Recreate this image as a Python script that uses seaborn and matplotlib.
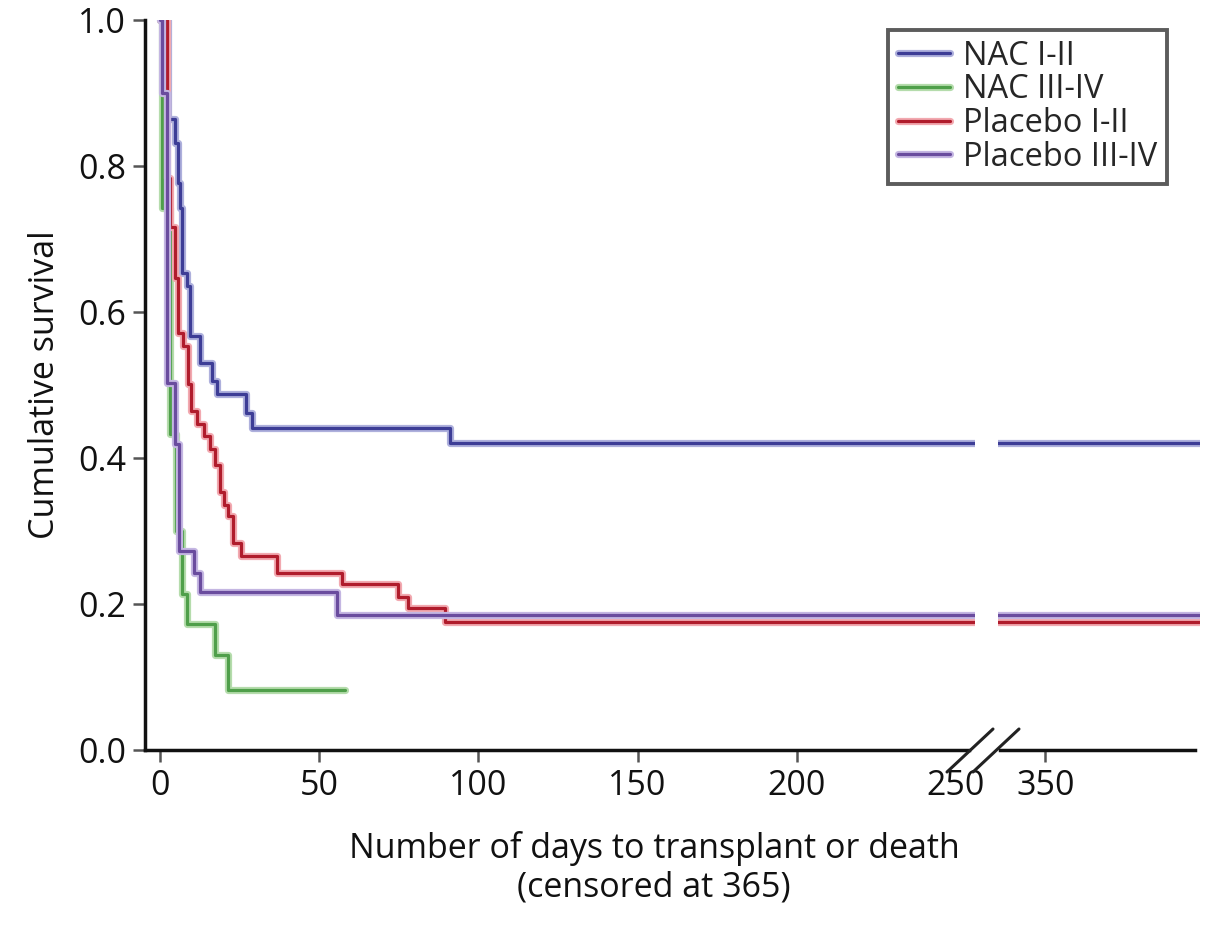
import pandas as pd
import seaborn as sns
import matplotlib.pyplot as plt
import matplotlib.patheffects as pe
from matplotlib.lines import Line2D

sns.set_style('ticks')
plt.rcParams['font.family'] = ['Open Sans', 'DejaVu Sans']

# Kaplan-Meier steps: day of drop, survival after drop
nac12_t = [0, 2.5, 4.7, 5.7, 6.3, 6.9, 8.5, 9.4, 12.6, 16.4, 17.9, 27.0, 28.9, 91.2, 398.5]
nac12_s = [1.0, 0.865, 0.832, 0.777, 0.743, 0.654, 0.636, 0.567, 0.530, 0.505, 0.487, 0.462, 0.441, 0.420, 0.420]

nac34_t = [0, 0.6, 3.0, 5.0, 6.9, 8.5, 17.3, 21.4, 58.2]
nac34_s = [1.0, 0.742, 0.433, 0.300, 0.214, 0.172, 0.130, 0.082, 0.082]

plc12_t = [0, 2.2, 3.1, 4.7, 5.8, 7.3, 8.9, 9.6, 11.6, 13.8, 15.7, 17.3, 18.9, 20.0, 21.5,
           22.9, 25.5, 36.8, 57.2, 74.8, 78.0, 89.6, 398.5]
plc12_s = [1.0, 0.784, 0.716, 0.647, 0.571, 0.553, 0.501, 0.464, 0.446, 0.430, 0.412, 0.391, 0.354,
           0.336, 0.320, 0.283, 0.266, 0.243, 0.228, 0.210, 0.194, 0.176, 0.176]

plc34_t = [0, 0.6, 2.2, 4.7, 5.9, 10.7, 12.6, 55.7, 398.5]
plc34_s = [1.0, 0.900, 0.503, 0.419, 0.272, 0.242, 0.216, 0.185, 0.185]

groups = ['NAC I-II', 'NAC III-IV', 'Placebo I-II', 'Placebo III-IV']
colors = {'NAC I-II': '#3d3d96', 'NAC III-IV': '#4f9f4a',
          'Placebo I-II': '#b01c2c', 'Placebo III-IV': '#6a4c9e'}
halos = {'NAC I-II': '#aeb0dc', 'NAC III-IV': '#b5dcac',
         'Placebo I-II': '#f2a9b0', 'Placebo III-IV': '#c4b6e2'}

frames = []
for name, t, s in zip(groups, [nac12_t, nac34_t, plc12_t, plc34_t],
                      [nac12_s, nac34_s, plc12_s, plc34_s]):
    frames.append(pd.DataFrame({'day': t, 'survival': s, 'group': name}))
df = pd.concat(frames, ignore_index=True)

draw_order = ['NAC I-II', 'NAC III-IV', 'Placebo I-II', 'Placebo III-IV']
fs = 24.5

fig = plt.figure(figsize=(12.12, 9.3), dpi=100)
ax = fig.add_axes([145 / 1212, 1 - 750 / 930, 830 / 1212, 730 / 930])
ax2 = fig.add_axes([998 / 1212, 1 - 750 / 930, 202 / 1212, 730 / 930])

for a in (ax, ax2):
    for g in draw_order:
        sub = df[df.group == g]
        sns.lineplot(data=sub, x='day', y='survival', color=colors[g], linewidth=2.3,
                     drawstyle='steps-post', estimator=None, sort=False, ax=a,
                     path_effects=[pe.Stroke(linewidth=5.2, foreground=halos[g]), pe.Normal()])
    a.set_xlabel('')
    a.set_ylabel('')
    a.set_ylim(0, 1.0)
    for sp in a.spines.values():
        sp.set_linewidth(2.5)
        sp.set_color('#111111')
    a.spines['top'].set_visible(False)
    a.spines['right'].set_visible(False)
    a.tick_params(axis='both', length=8.5, width=1.8, color='#555555', labelsize=fs,
                  pad=5, labelcolor='#111111')

ax.set_xlim(-4.7, 256)
ax.spines['bottom'].set_bounds(-4.7, 254)
ax.set_xticks([0, 50, 100, 150, 200, 250])
ax.set_xticklabels(['0', '50', '100', '150', '200', '250'])
ax.xaxis.get_major_ticks()[-1].tick1line.set_visible(False)
ax.set_yticks([0.0, 0.2, 0.4, 0.6, 0.8, 1.0])
ax.set_yticklabels(['0.0', '0.2', '0.4', '0.6', '0.8', '1.0'])
ax.set_ylabel('Cumulative survival', fontsize=fs, labelpad=12, color='#111111')

ax2.set_xlim(335.2, 398.5)
ax2.spines['bottom'].set_bounds(335.8, 397)
ax2.spines['left'].set_visible(False)
ax2.set_xticks([350])
ax2.set_xticklabels(['350'])
ax2.set_yticks([])

# axis break marks
for x0 in (947, 973):
    fig.add_artist(Line2D([x0 / 1212, (x0 + 46) / 1212], [1 - 772 / 930, 1 - 729 / 930],
                          color='#222222', linewidth=2.2, transform=fig.transFigure))

fig.text(654 / 1212, 1 - 848 / 930, 'Number of days to transplant or death', fontsize=fs,
         ha='center', va='center', color='#111111')
fig.text(654 / 1212, 1 - 887 / 930, '(censored at 365)', fontsize=fs,
         ha='center', va='center', color='#111111')

handles = [Line2D([], [], color=colors[g], linewidth=2.3,
                  path_effects=[pe.Stroke(linewidth=5.2, foreground=halos[g]), pe.Normal()])
           for g in groups]
leg = fig.legend(handles, groups, loc='upper right', bbox_to_anchor=(1167 / 1212, 1 - 30 / 930),
                 bbox_transform=fig.transFigure, fontsize=23.5, frameon=True, fancybox=False,
                 handlelength=1.6, handletextpad=0.4, labelspacing=0.02, borderpad=0.3,
                 borderaxespad=0)
leg.get_frame().set_edgecolor('#333333')
leg.get_frame().set_linewidth(2.8)

fig.savefig('out.png', dpi=100)
